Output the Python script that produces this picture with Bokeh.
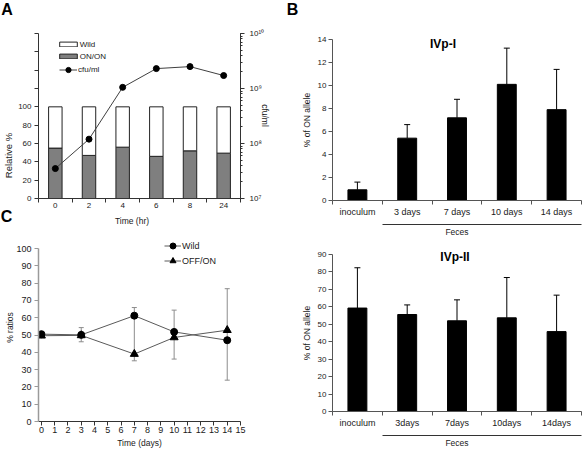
import numpy as np
from bokeh.plotting import figure
from bokeh.models import (Range1d, LinearAxis, LogAxis, LogScale, LogTicker, FixedTicker,
                          Legend, LegendItem, Label, Whisker, ColumnDataSource, TeeHead,
                          GridBox)
from bokeh.layouts import row, column
from bokeh.embed import file_html
from bokeh.resources import INLINE

FONT = "Liberation Sans"
TXT = "#1a1a1a"

# ---------------- Panel A data ----------------
hours = ["0", "2", "4", "6", "8", "24"]
on_on_pct = [55.0, 47.0, 56.0, 46.0, 52.0, 49.5]
wild_pct = [45.0, 53.0, 44.0, 54.0, 48.0, 50.5]
cfu_per_ml = [3.5e7, 1.2e8, 1.05e9, 2.3e9, 2.5e9, 1.72e9]
rel_ticks = [0, 20, 40, 60, 80, 100, 120, 140, 160, 180]
rel_labels = ["0", "20", "40", "60", "80", "100", "", "", "", ""]
cfu_ticks = [10**7, 10**8, 10**9, 10**10]
cfu_labels = ["10\u2077", "10\u2078", "10\u2079", "10\u00b9\u2070"]

# ---------------- Panel B data ----------------
ivp1_samples = ["inoculum", "3 days", "7 days", "10 days", "14 days"]
ivp1_mean = [0.93, 5.42, 7.19, 10.1, 7.9]
ivp1_err = [0.67, 1.18, 1.61, 3.15, 3.5]
ivp1_ticks = [0, 2, 4, 6, 8, 10, 12, 14]

ivp2_samples = ["inoculum", "3days", "7days", "10days", "14days"]
ivp2_mean = [59.3, 55.6, 52.0, 53.7, 45.8]
ivp2_err = [23.1, 5.5, 12.0, 23.1, 20.9]
ivp2_ticks = [0, 10, 20, 30, 40, 50, 60, 70, 80, 90]

# ---------------- Panel C data ----------------
days = [0, 3, 7, 10, 14]
wild_ratio = [50.5, 50.1, 61.2, 51.8, 47.0]
offon_ratio = [49.6, 49.8, 39.0, 48.6, 52.8]
err_days = [3, 7, 10, 14]
err_low = [46.1, 35.1, 36.1, 23.9]
err_high = [54.3, 65.9, 64.4, 76.8]
day_ticks = [0, 1, 2, 3, 4, 5, 6, 7, 8, 9, 10, 11, 12, 13, 14, 15]
ratio_ticks = [0, 10, 20, 30, 40, 50, 60, 70, 80, 90, 100]


def base_fig(**kw):
    p = figure(output_backend="svg", toolbar_location=None, **kw)
    p.outline_line_color = None
    p.xgrid.visible = False
    p.ygrid.visible = False
    p.background_fill_color = "white"
    p.border_fill_color = "white"
    return p


def style_axis(ax, size="8px", color="#333333"):
    ax.major_label_text_font = FONT
    ax.major_label_text_font_size = size
    ax.major_label_text_color = TXT
    ax.axis_label_text_font = FONT
    ax.axis_label_text_font_style = "normal"
    ax.axis_label_text_color = TXT
    ax.axis_line_color = color
    ax.major_tick_line_color = color
    ax.minor_tick_line_color = color
    ax.major_tick_in = 0
    ax.minor_tick_in = 0


# ======================= Panel A =======================
pA = base_fig(width=284, height=227, x_range=Range1d(0, len(hours)), y_range=Range1d(0, 180),
              min_border_left=38, min_border_right=44, min_border_top=33, min_border_bottom=29)
pA.extra_y_ranges = {"cfu": Range1d(1e7, 1e10)}
pA.extra_y_scales = {"cfu": LogScale()}

xA = np.arange(len(hours)) + 0.5
srcA = ColumnDataSource(dict(x=xA, on=on_on_pct, wild_top=np.add(on_on_pct, wild_pct), cfu=cfu_per_ml))
r_on = pA.vbar(x="x", bottom=0, top="on", width=0.4, source=srcA,
               fill_color="#7f7f7f", line_color="#222222", line_width=1)
r_wild = pA.vbar(x="x", bottom="on", top="wild_top", width=0.4, source=srcA,
                 fill_color="white", line_color="#222222", line_width=1)
r_cl = pA.line(x="x", y="cfu", source=srcA, y_range_name="cfu", line_color="#404040", line_width=1)
r_cs = pA.scatter(x="x", y="cfu", source=srcA, y_range_name="cfu", marker="circle", size=6,
                  fill_color="black", line_color="black")

xa = pA.xaxis[0]
style_axis(xa, "8px", "#333333")
xa.ticker = FixedTicker(ticks=list(xA), minor_ticks=list(range(len(hours) + 1)))
xa.major_label_overrides = {float(x): h for x, h in zip(xA, hours)}
xa.major_tick_line_color = None
xa.major_tick_out = 4
xa.minor_tick_out = 4
xa.major_label_standoff = 0

ya = pA.yaxis[0]
style_axis(ya, "8px", "#333333")
ya.ticker = FixedTicker(ticks=rel_ticks)
ya.major_label_overrides = {t: l for t, l in zip(rel_ticks, rel_labels)}
ya.major_tick_out = 4
ya.major_label_standoff = 3

ra = LogAxis(y_range_name="cfu", ticker=LogTicker(num_minor_ticks=10))
style_axis(ra, "8px", "#333333")
ra.major_label_overrides = {t: l for t, l in zip(cfu_ticks, cfu_labels)}
ra.major_tick_out = 4
ra.minor_tick_out = 2
ra.major_label_standoff = 5
pA.add_layout(ra, "right")

legA1 = Legend(items=[LegendItem(label="Wild", renderers=[r_wild]),
                      LegendItem(label="ON/ON", renderers=[r_on])],
               location=(18.75, 137), glyph_width=22, glyph_height=6, label_height=10,
               spacing=2, padding=0, margin=0, label_standoff=1,
               label_text_font=FONT, label_text_font_size="8px", label_text_color=TXT,
               border_line_color=None, background_fill_alpha=0)
legA2 = Legend(items=[LegendItem(label="cfu/ml", renderers=[r_cl, r_cs])],
               location=(21, 122), glyph_width=18, glyph_height=13, label_height=10,
               spacing=0, padding=0, margin=0, label_standoff=1,
               label_text_font=FONT, label_text_font_size="8px", label_text_color=TXT,
               border_line_color=None, background_fill_alpha=0)
pA.add_layout(legA1)
pA.add_layout(legA2)

# ======================= Panel C =======================
pC = base_fig(width=284, height=223, x_range=Range1d(-0.22, 15), y_range=Range1d(0, 106.4),
              min_border_left=38, min_border_right=44, min_border_top=10, min_border_bottom=29)
srcC = ColumnDataSource(dict(d=days, w=wild_ratio, o=offon_ratio))
errC = ColumnDataSource(dict(d=err_days, lo=err_low, hi=err_high))
pC.add_layout(Whisker(base="d", lower="lo", upper="hi", source=errC, line_color="#8c8c8c",
                      line_width=1, level="underlay",
                      upper_head=TeeHead(size=5, line_color="#8c8c8c", line_width=1),
                      lower_head=TeeHead(size=5, line_color="#8c8c8c", line_width=1)))
lw = pC.line(x="d", y="w", source=srcC, line_color="#5a5a5a", line_width=1)
lo = pC.line(x="d", y="o", source=srcC, line_color="#5a5a5a", line_width=1)
sw = pC.scatter(x="d", y="w", source=srcC, marker="circle", size=7,
                fill_color="black", line_color="black")
so = pC.scatter(x="d", y="o", source=srcC, marker="triangle", size=8,
                fill_color="black", line_color="black")

cx = pC.xaxis[0]
style_axis(cx, "9px", "#333333")
cx.ticker = FixedTicker(ticks=day_ticks)
cx.major_tick_out = 4
cx.major_label_standoff = 1
cx.axis_label = "Time (days)"
cx.axis_label_text_font_size = "8.5px"
cx.axis_label_standoff = 2

cy = pC.yaxis[0]
style_axis(cy, "9px", "#9a9a9a")
cy.axis_line_width = 1.5
cy.bounds = (0, 100)
cy.ticker = FixedTicker(ticks=ratio_ticks)
cy.major_tick_out = 4
cy.major_label_standoff = 3

legC = Legend(items=[LegendItem(label="Wild", renderers=[lw, sw]),
                     LegendItem(label="OFF/ON", renderers=[lo, so])],
              location=(126, 152.8), glyph_width=17, glyph_height=15, label_height=10,
              spacing=0, padding=0, margin=0, label_standoff=1,
              label_text_font=FONT, label_text_font_size="9px", label_text_color=TXT,
              border_line_color=None, background_fill_alpha=0)
pC.add_layout(legC)


# ======================= Panel B =======================
def bar_panel(samples, mean, err, ticks, ymax, height, top, bottom):
    p = base_fig(width=298, height=height, x_range=Range1d(0, len(samples)),
                 y_range=Range1d(0, ymax), min_border_left=48, min_border_right=1,
                 min_border_top=top, min_border_bottom=bottom)
    xs = np.arange(len(samples)) + 0.5
    src = ColumnDataSource(dict(x=xs, m=mean, up=np.add(mean, err)))
    p.add_layout(Whisker(base="x", lower="m", upper="up", source=src, line_color="black",
                         line_width=1, lower_head=None,
                         upper_head=TeeHead(size=6, line_color="black", line_width=1)))
    p.vbar(x="x", bottom=0, top="m", width=0.38, source=src,
           fill_color="black", line_color="black")

    ax = p.xaxis[0]
    style_axis(ax, "9px", "#555555")
    ax.ticker = FixedTicker(ticks=list(xs), minor_ticks=list(range(len(samples) + 1)))
    ax.major_label_overrides = {float(x): s for x, s in zip(xs, samples)}
    ax.major_tick_line_color = None
    ax.major_tick_out = 4
    ax.minor_tick_out = 4
    ax.major_label_standoff = 2
    ax.axis_label = "\u00a0"
    ax.axis_label_text_font_size = "2px"
    ax.axis_label_standoff = 0

    fec = LinearAxis(bounds=(1, len(samples)), ticker=FixedTicker(ticks=[]))
    style_axis(fec, "9px", "#333333")
    fec.major_tick_out = 0
    fec.minor_tick_out = 0
    fec.major_label_standoff = 0
    fec.axis_label = "Feces"
    fec.axis_label_text_font_size = "8.5px"
    fec.axis_label_standoff = 2
    p.add_layout(fec, "below")

    ay = p.yaxis[0]
    style_axis(ay, "8px", "#555555")
    ay.ticker = FixedTicker(ticks=ticks)
    ay.major_tick_out = 4
    ay.major_label_standoff = 2
    ay.axis_label = "% of ON allele"
    ay.axis_label_text_font_size = "8.5px"
    ay.axis_label_standoff = 3
    return p


pB1 = bar_panel(ivp1_samples, ivp1_mean, ivp1_err, ivp1_ticks, 14, 240, 39, 40)
pB2 = bar_panel(ivp2_samples, ivp2_mean, ivp2_err, ivp2_ticks, 90, 210, 14, 37)

main = row(column(pA, pC), column(pB1, pB2))

# transparent overlay carrying panel letters, panel titles and free-standing axis titles
ov = figure(width=582, height=450, x_range=Range1d(0, 582), y_range=Range1d(450, 0),
            x_axis_type=None, y_axis_type=None, min_border=0,
            output_backend="svg", toolbar_location=None)
ov.outline_line_color = None
ov.background_fill_alpha = 0
ov.border_fill_alpha = 0
ov.grid.visible = False

overlay_texts = [
    # text, x, y, size, style, angle
    ("A", 6.5, 8.5, "16px", "bold", 0),
    ("B", 292, 8.5, "16px", "bold", 0),
    ("C", 6, 216, "16px", "bold", 0),
    ("IVp-I", 442.5, 43.5, "12px", "bold", 0),
    ("IVp-II", 454.5, 256, "12px", "bold", 0),
    ("Relative %", 8, 155, "9.5px", "normal", np.pi / 2),
    ("cfu/ml", 264.5, 115, "8.5px", "normal", -np.pi / 2),
    ("Time (hr)", 131.5, 220, "8.5px", "normal", 0),
    ("% ratios", 9, 327, "8.5px", "normal", np.pi / 2),
]
for txt, lx, ly, fs, st, ang in overlay_texts:
    ov.add_layout(Label(x=lx, y=ly, text=txt, text_font=FONT, text_font_size=fs,
                        text_font_style=st, text_color="black" if st == "bold" else TXT,
                        angle=ang, text_align="center", text_baseline="middle"))

layout = GridBox(children=[(main, 0, 0), (ov, 0, 0)])
open("out.html", "w").write(file_html(layout, INLINE, title="Figure"))
